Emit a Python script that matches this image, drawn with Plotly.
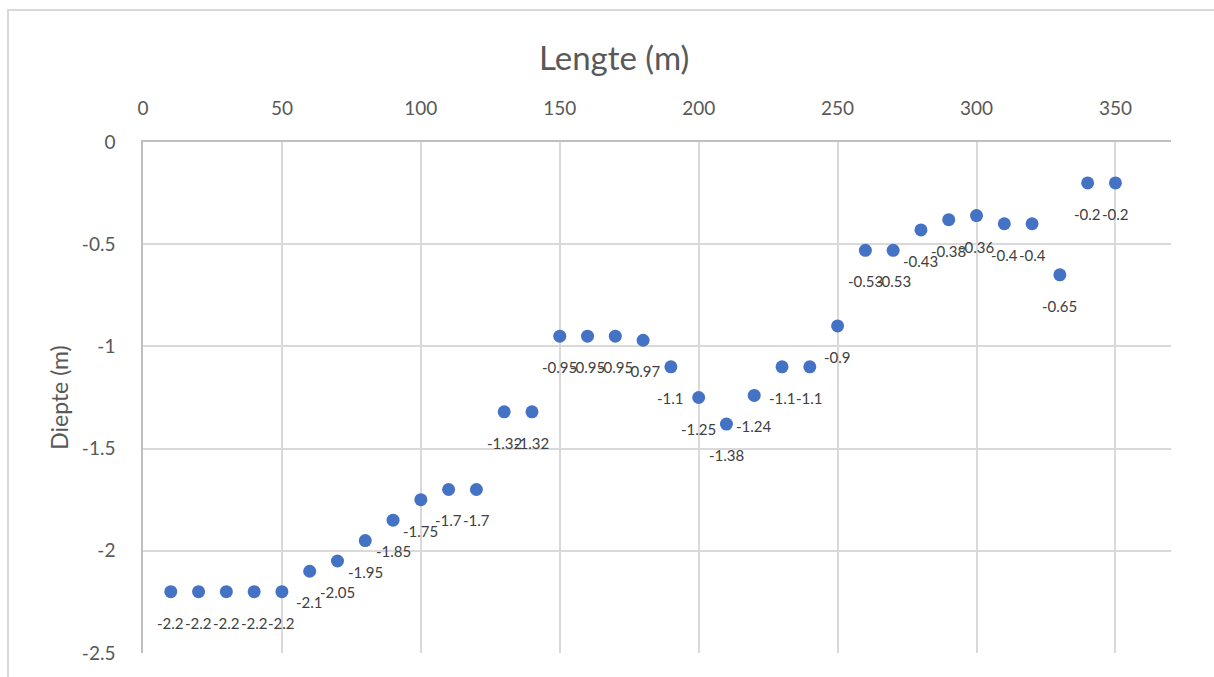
import plotly.graph_objects as go

# Lengte langs profiel (m) en gemeten diepte (m)
lengte = [10, 20, 30, 40, 50, 60, 70, 80, 90, 100, 110, 120, 130, 140, 150, 160, 170, 180,
          190, 200, 210, 220, 230, 240, 250, 260, 270, 280, 290, 300, 310, 320, 330, 340, 350]
diepte = [-2.2, -2.2, -2.2, -2.2, -2.2, -2.1, -2.05, -1.95, -1.85, -1.75, -1.7, -1.7, -1.32, -1.32,
          -0.95, -0.95, -0.95, -0.97, -1.1, -1.25, -1.38, -1.24, -1.1, -1.1, -0.9, -0.53, -0.53,
          -0.43, -0.38, -0.36, -0.4, -0.4, -0.65, -0.2, -0.2]

x_ticks = [0, 50, 100, 150, 200, 250, 300, 350]
y_ticks = [0, -0.5, -1, -1.5, -2, -2.5]
y_tick_text = ["0", "-0.5", "-1", "-1.5", "-2", "-2.5"]

FONT = "Lato"
GRID = "#D9D9D9"
AXIS = "#BFBFBF"
TEXT = "#595959"
BLUE = "#4472C4"

fig = go.Figure()
fig.add_trace(go.Scatter(
    x=lengte, y=diepte, mode="markers",
    marker=dict(color=BLUE, size=13),
    hoverinfo="x+y", showlegend=False,
))

W, H = 1214, 677
ml, mr, mt, mb = 143, 43, 142, 24
pw, ph = W - ml - mr, H - mt - mb

def px_x(p):
    return (p - ml) / pw

def px_y(p):
    return (H - mb - p) / ph

# Datalabels onder elk punt
annotations = [
    dict(x=xv, y=yv, xref="x", yref="y", text=f"{yv:g}", showarrow=False,
         yshift=-31, font=dict(family=FONT, size=15, color="#404040"))
    for xv, yv in zip(lengte, diepte)
]

# Grafiektitel, gecentreerd boven de hele figuur
annotations.append(dict(
    x=px_x(614), y=px_y(57), xref="paper", yref="paper",
    xanchor="center", yanchor="middle", showarrow=False,
    text="Lengte (m)", font=dict(family=FONT, size=33, color=TEXT),
))

fig.update_layout(
    width=W, height=H,
    margin=dict(l=ml, r=mr, t=mt, b=mb),
    paper_bgcolor="white", plot_bgcolor="white",
    font=dict(family=FONT, color=TEXT),
    annotations=annotations,
    shapes=[dict(type="rect", xref="paper", yref="paper",
                 x0=px_x(8), x1=px_x(1220), y0=px_y(690), y1=px_y(10),
                 line=dict(color=GRID, width=2), layer="below")],
    xaxis=dict(
        side="top", range=[0, 370], tickvals=x_ticks,
        showgrid=True, gridcolor=GRID, gridwidth=1.5,
        zeroline=False, showline=True, linecolor=AXIS, linewidth=1.5,
        ticks="", ticklabelstandoff=18,
        tickfont=dict(family=FONT, size=19, color=TEXT),
    ),
    yaxis=dict(
        range=[-2.5, 0], tickvals=y_ticks, ticktext=y_tick_text,
        showgrid=True, gridcolor=GRID, gridwidth=1.5,
        zeroline=False, showline=True, linecolor=AXIS, linewidth=1.5,
        ticks="", ticklabelstandoff=22,
        tickfont=dict(family=FONT, size=19, color=TEXT),
        title=dict(text="Diepte (m)", font=dict(family=FONT, size=23, color=TEXT), standoff=7),
    ),
)

fig.write_html("out.html")
